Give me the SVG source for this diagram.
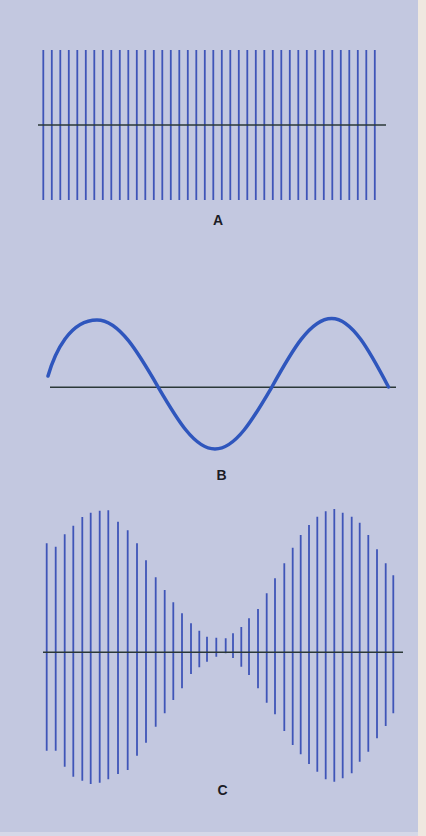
<svg xmlns="http://www.w3.org/2000/svg" width="426" height="836" viewBox="0 0 426 836">
  <style>
    .bg { fill: #c3c8e0; }
    .edge { fill: #efe8e0; }
    .bottom { fill: #d6d8e8; }
    .axis { stroke: #2b3838; stroke-width: 1.5; fill: none; }
    .bars { stroke: #3f55b8; stroke-width: 1.8; fill: none; }
    .wave { stroke: #2f56bd; stroke-width: 3.5; fill: none; stroke-linecap: round; }
    .label { font-family: "Liberation Sans", Arial, sans-serif; font-size: 14px; font-weight: bold; fill: #1c1c26; text-anchor: middle; }
  </style>
  <rect class="bg" x="0" y="0" width="426" height="836"/>
  <rect class="edge" x="418" y="0" width="8" height="836"/>
  <rect class="bottom" x="0" y="832" width="418" height="4"/>

  <g id="panel-a">
    <path class="bars" d="M43.3 50V200M51.8 50V200M60.3 50V200M68.8 50V200M77.3 50V200M85.8 50V200M94.3 50V200M102.8 50V200M111.3 50V200M119.8 50V200M128.3 50V200M136.8 50V200M145.3 50V200M153.8 50V200M162.3 50V200M170.8 50V200M179.3 50V200M187.8 50V200M196.3 50V200M204.8 50V200M213.3 50V200M221.8 50V200M230.3 50V200M238.8 50V200M247.3 50V200M255.8 50V200M264.3 50V200M272.8 50V200M281.3 50V200M289.8 50V200M298.3 50V200M306.8 50V200M315.3 50V200M323.8 50V200M332.3 50V200M340.8 50V200M349.3 50V200M357.8 50V200M366.3 50V200M374.8 50V200"/>
    <line class="axis" x1="38" y1="125" x2="386" y2="125"/>
    <text class="label" x="218" y="224.5">A</text>
  </g>

  <g id="panel-b">
    <line class="axis" x1="50" y1="387.3" x2="396" y2="387.3"/>
    <path class="wave" d="M48 376C55 352 70 320 97 320C119.2 320 138.3 352.8 158.3 387.3C176.8 418.9 194.5 449 215 449C235.5 449 253.2 418.9 271.7 387.3C291.3 352.1 310 318.5 331.7 318.5C352.3 318.5 370 351.9 388.5 387"/>
    <text class="label" x="221.5" y="480">B</text>
  </g>

  <g id="panel-c">
    <path class="bars" d="M46.7 543.3V750.7M55.7 546.7V750.7M64.7 534.3V766.7M73.3 525.7V776.7M82.3 517V780.7M90.7 512.7V784M99.7 510.7V782.7M108.3 510.3V779.3M118 521.7V774M127.7 530.3V770M137 543.3V755.7M146 560.3V742.7M155.7 577.3V726.7M164.7 590V713.3M173.3 602.3V700M182 613.3V688.3M191 623.3V674M199.3 630.7V667.3M207 636.7V661.7M216.3 637.7V656.7M225.7 638.3V653.3M233 633.3V658M241.3 627V666.7M249 618.3V675M258 609V688.3M266.7 593.3V702.7M275 578.3V714.3M284.3 563.3V731M292.7 547.7V745M300.7 535V754.3M309 525V764M317.3 516.7V771.7M325.7 511.3V779.3M334.3 509V781.7M342.7 512.7V778.3M351.7 516.7V773.3M359.7 522.7V761.7M368.3 535V751.7M377 549.3V738.3M385.7 563.3V726M393.3 575.3V713.3"/>
    <line class="axis" x1="43" y1="652.3" x2="403" y2="652.3"/>
    <text class="label" x="222.5" y="795">C</text>
  </g>
</svg>
